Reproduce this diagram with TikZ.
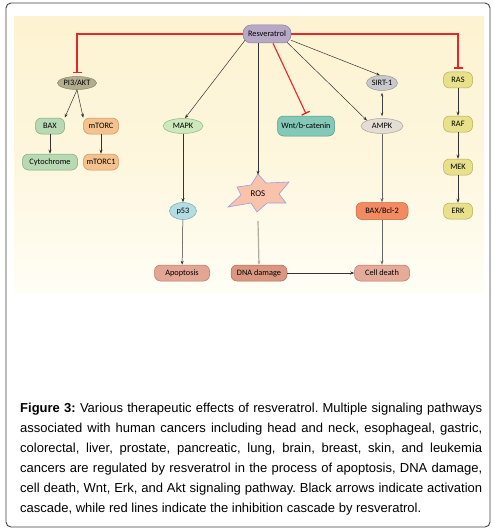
\documentclass[tikz,border=0pt]{standalone}
\usepackage{fontspec}
\setmainfont{Liberation Sans}
\newfontfamily\nodefont{Carlito}
\usetikzlibrary{arrows.meta,shapes.geometric,calc}
\newcommand\capsetup{\fontsize{13}{20}\selectfont\frenchspacing\hyphenpenalty=10000\relax\exhyphenpenalty=10000\relax}
\definecolor{panelTop}{HTML}{FDF3D2}
\definecolor{panelBot}{HTML}{FFFEF6}
\definecolor{inhib}{HTML}{E8262A}
\definecolor{resF}{HTML}{B7A9C6}\definecolor{resD}{HTML}{8C7FA0}
\definecolor{piF}{HTML}{B3AD8F}\definecolor{piD}{HTML}{8A8468}
\definecolor{grF}{HTML}{B9D8B4}\definecolor{grD}{HTML}{7FA77A}
\definecolor{orF}{HTML}{F3C28E}\definecolor{orD}{HTML}{C89460}
\definecolor{mapF}{HTML}{CDE8BD}\definecolor{mapD}{HTML}{8FB57E}
\definecolor{p53F}{HTML}{B4DCE3}\definecolor{p53D}{HTML}{7AAAB5}
\definecolor{apoF}{HTML}{E3A594}\definecolor{apoD}{HTML}{B57565}
\definecolor{rosF}{HTML}{F9C2AA}\definecolor{rosD}{HTML}{9C9FE0}
\definecolor{dnaF}{HTML}{D99782}\definecolor{dnaD}{HTML}{A86A55}
\definecolor{cdF}{HTML}{E5AB98}
\definecolor{wntF}{HTML}{84C9B7}\definecolor{wntD}{HTML}{4F9785}
\definecolor{siF}{HTML}{C9C9CB}\definecolor{siD}{HTML}{969696}
\definecolor{amF}{HTML}{E4DDD6}\definecolor{amD}{HTML}{ABA39B}
\definecolor{bcF}{HTML}{F28B61}\definecolor{bcD}{HTML}{C4643E}
\definecolor{yeF}{HTML}{E8E08A}\definecolor{yeD}{HTML}{B3AB55}
\definecolor{rosLine}{HTML}{B2AA9C}
\tikzset{
  box/.style={draw, rounded corners=6pt, minimum height=16pt, inner sep=1.5pt, font=\nodefont\fontsize{8.3}{9}\selectfont, line width=0.5pt},
  oval/.style={draw, ellipse, minimum height=15pt, inner sep=0.5pt, font=\nodefont\fontsize{8.3}{9}\selectfont, line width=0.5pt},
  act/.style={-{Stealth[length=4pt,width=3pt]}, line width=0.5pt, black!80},
  inh/.style={-{Bar[width=9pt,line width=1.3pt]}, inhib, line width=1.1pt},
}
\begin{document}
\begin{tikzpicture}[x=1pt,y=-1pt]
\useasboundingbox (0,0) rectangle (494,532);
\fill[white] (0,0) rectangle (494,532);
\draw[line width=0.9pt, black!75, rounded corners=5pt] (6,3) rectangle (490,527);
\shade[top color=panelTop, bottom color=panelBot, middle color=panelTop!70!panelBot] (14,17) rectangle (484,293);

% nodes
\node[box, fill=resF, draw=resD, minimum width=48pt, minimum height=18pt, rounded corners=8pt] (res) at (267,34) {Resveratrol};
\node[oval, fill=piF, draw=piD, minimum width=38pt, minimum height=13pt] (pi3) at (77,83) {PI3/AKT};
\node[box, fill=grF, draw=grD, minimum width=29pt] (bax) at (50,126) {BAX};
\node[box, fill=orF, draw=orD, minimum width=35pt] (mtorc) at (101,126) {mTORC};
\node[box, fill=grF, draw=grD, minimum width=55pt] (cyto) at (50,162) {Cytochrome};
\node[box, fill=orF, draw=orD, minimum width=35pt] (mtorc1) at (101,162) {mTORC1};

\node[oval, fill=mapF, draw=mapD, minimum width=40pt] (mapk) at (183,126) {MAPK};
\node[oval, fill=p53F, draw=p53D, minimum width=27pt, minimum height=17pt] (p53) at (183,211) {p53};
\node[box, fill=apoF, draw=apoD, minimum width=55pt] (apo) at (182,273) {Apoptosis};

\filldraw[fill=rosF, draw=rosD, line width=0.6pt] (258,174) -- (266,183) -- (289,182) -- (279,194) -- (286,203) -- (267,203) -- (257,212) -- (251,203) -- (228,207) -- (241,195) -- (237,187) -- (251,185) -- cycle;
\node[font=\nodefont\fontsize{8.8}{9}\selectfont, minimum width=40pt, minimum height=42pt, inner sep=0pt] (ros) at (258,194) {ROS};

\node[box, fill=dnaF, draw=dnaD, minimum width=56pt] (dna) at (259,273) {DNA damage};
\node[box, fill=cdF, draw=apoD, minimum width=55pt] (death) at (382,273) {Cell death};

\node[box, fill=wntF, draw=wntD, minimum width=57pt, minimum height=20pt] (wnt) at (306,126) {Wnt/b-catenin};
\node[oval, fill=siF, draw=siD, minimum width=31pt] (sirt) at (382,83) {SIRT-1};
\node[oval, fill=amF, draw=amD, minimum width=42pt] (ampk) at (382,126) {AMPK};
\node[box, fill=bcF, draw=bcD, minimum width=52pt, minimum height=17pt] (bcl) at (382,211) {BAX/Bcl-2};

\node[box, fill=yeF, draw=yeD, minimum width=29pt] (ras) at (458,80) {RAS};
\node[box, fill=yeF, draw=yeD, minimum width=29pt] (raf) at (458,124) {RAF};
\node[box, fill=yeF, draw=yeD, minimum width=29pt] (mek) at (458,167) {MEK};
\node[box, fill=yeF, draw=yeD, minimum width=29pt] (erk) at (458,211) {ERK};

% inhibition
\draw[inh] (res.west) -| ([yshift=3pt]pi3.north);
\draw[inh] (res.east) -| ([yshift=3pt]ras.north);
\draw[inh] ([xshift=6pt]res.south) -- ([yshift=2pt]wnt.north);

% activation
\draw[act] ([xshift=-22pt,yshift=3pt]res.south) -- ([xshift=2pt]mapk.north);
\draw[act] ([xshift=-9pt]res.south) -- ([yshift=-2pt]ros.north);
\draw[act] ([xshift=24pt,yshift=3pt]res.south) -- ([xshift=-2pt]sirt.north);
\draw[act] ([xshift=20pt,yshift=1pt]res.south) -- (ampk.north west);
\draw[act] (pi3.south) -- (bax.north east);
\draw[act] (pi3.south) -- (mtorc.north west);
\draw[act] (bax) -- (cyto);
\draw[act] (mtorc) -- (mtorc1);
\draw[act] (mapk) -- (p53);
\draw[act] (p53) -- (apo);
\draw[-{Stealth[length=4pt,width=3pt]}, rosLine, line width=1.2pt] ([yshift=-6pt]ros.south) -- (dna.north);
\draw[act] (dna) -- (death);
\draw[{Stealth[length=3.5pt,width=2.5pt]}-{Stealth[length=3.5pt,width=2.5pt]}, line width=0.5pt, black!75] ([yshift=-2pt]sirt.south) -- ([yshift=2pt]ampk.north);
\draw[act, black!60] (ampk) -- (bcl);
\draw[act, black!60] (bcl) -- (death);
\draw[act] (ras) -- (raf);
\draw[act] (raf) -- (mek);
\draw[act] (mek) -- (erk);

% caption
\node[anchor=north west, inner sep=0pt, text width=462pt, align=justify, font=\capsetup] (cap) at (20,403)
{\textbf{Figure 3:} Various therapeutic effects of resveratrol. Multiple signaling pathways\linebreak associated with human cancers including head and neck, esophageal, gastric,\linebreak colorectal, liver, prostate, pancreatic, lung, brain, breast, skin, and leukemia\linebreak cancers are regulated by resveratrol in the process of apoptosis, DNA damage,\linebreak cell death, Wnt, Erk, and Akt signaling pathway. Black arrows indicate activation\linebreak cascade, while red lines indicate the inhibition cascade by resveratrol.};
\end{tikzpicture}
\end{document}
